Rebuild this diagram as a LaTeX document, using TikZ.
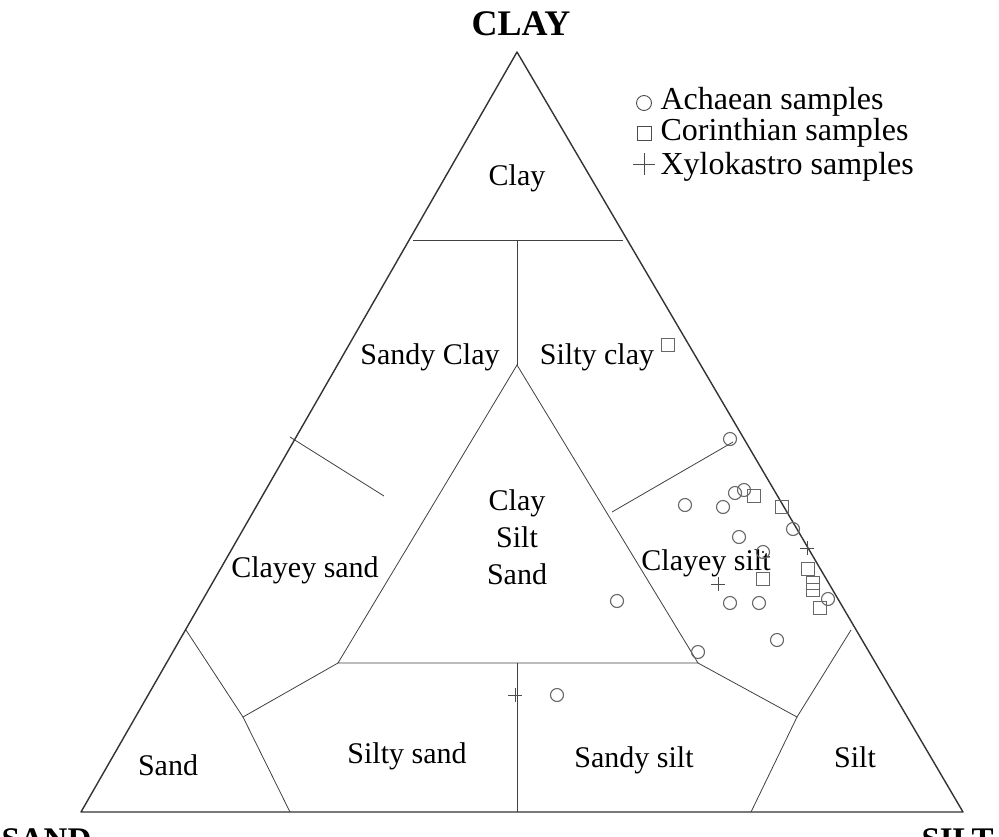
\documentclass[tikz,border=0pt]{standalone}
\usepackage{fontspec}
\setmainfont{Liberation Serif}
\begin{document}
\begin{tikzpicture}[x=1pt,y=-1pt,
  bnd/.style={draw=black!75,line width=0.8pt},
  outer/.style={draw=black!80,line width=1.4pt,line join=round},
  lab/.style={font=\fontsize{30}{34}\selectfont},
  leg/.style={font=\fontsize{32}{34}\selectfont,anchor=west},
  circ/.style={draw=black!60,line width=1.1pt},
  sq/.style={draw=black!60,line width=1.1pt},
  pl/.style={draw=black!70,line width=0.9pt}]
\useasboundingbox (0,0) rectangle (999,836);
\coordinate (A) at (517,52); \coordinate (B) at (81,812); \coordinate (C) at (963,812);
\draw[outer] (A) -- (B) -- (C) -- cycle;
% inner boundaries
\coordinate (c1) at (413,240); \coordinate (c2) at (623,240);
\coordinate (t1) at (517,240); \coordinate (ta) at (517,365);
\coordinate (tl) at (338,663); \coordinate (tr) at (698,663);
\draw[bnd] (c1) -- (c2);
\draw[bnd] (t1) -- (ta);
\draw[bnd] (ta) -- (tl) -- (tr) -- cycle;
\coordinate (l1) at (290,437); \coordinate (l2) at (384,496);
\coordinate (r1) at (612,512); \coordinate (r2) at (733,442);
\draw[bnd] (l1) -- (l2); \draw[bnd] (r1) -- (r2);
\coordinate (s1) at (186,630); \coordinate (s2) at (243,717); \coordinate (s3) at (290,812);
\draw[bnd] (s1) -- (s2) -- (tl); \draw[bnd] (s2) -- (s3);
\coordinate (m1) at (517,663); \coordinate (m2) at (517,812);
\draw[bnd] (m1) -- (m2);
\coordinate (p1) at (797,717); \coordinate (p2) at (851,630); \coordinate (p3) at (751,812);
\draw[bnd] (tr) -- (p1) -- (p2); \draw[bnd] (p1) -- (p3);
% labels
\node[font=\bfseries\fontsize{36}{40}\selectfont] (lclay) at (521,24) {CLAY};
\node[font=\bfseries\fontsize{33}{40}\selectfont,anchor=west] (lsand) at (-2,840) {SAND};
\node[font=\bfseries\fontsize{33}{40}\selectfont,anchor=west] (lsilt) at (918,840) {SILT};
\node[lab] (n1) at (517,178) {Clay};
\node[lab] (n2) at (430,357) {Sandy Clay};
\node[lab] (n3) at (597,357) {Silty clay};
\node[lab,align=center,font=\fontsize{30}{37}\selectfont] (n4) at (517,537) {Clay\\Silt\\Sand};
\node[lab] (n5) at (305,570) {Clayey sand};
\node[lab] (n6) at (706,563) {Clayey silt};
\node[lab] (n7) at (168,765) {Sand};
\node[lab] (n8) at (407,756) {Silty sand};
\node[lab] (n9) at (634,760) {Sandy silt};
\node[lab] (n10) at (855,757) {Silt};
% legend
\draw[black!70,line width=0.9pt] (644,103) circle (7.5);
\draw[black!70,line width=0.9pt] (637,126) rectangle (651,140);
\draw[black!70,line width=0.9pt] (633,164) -- (655,164) (644,153) -- (644,175);
\node[leg] (g1) at (657,102) {Achaean samples};
\node[leg] (g2) at (657,133) {Corinthian samples};
\node[leg] (g3) at (657,167) {Xylokastro samples};
% data
\foreach \x/\y in {730/439,735/493,744/490,685/505,723/507,793/529,739/537,763/552,730/603,759/603,777/640,698/652,617/601,828/599,557/695}
  \draw[circ] (\x,\y) circle (6.5);
\fill (763,552) circle (1.2);
\foreach \x/\y in {754/496,782/507,808/569,763/579,813/583,813/590,820/608,668/345}
  \draw[sq] (\x-6.5,\y-6.5) rectangle (\x+6.5,\y+6.5);
\foreach \x/\y in {807/548,718/584,515/695}
  \draw[pl] (\x-7,\y) -- (\x+7,\y) (\x,\y-7) -- (\x,\y+7);
\end{tikzpicture}
\end{document}
